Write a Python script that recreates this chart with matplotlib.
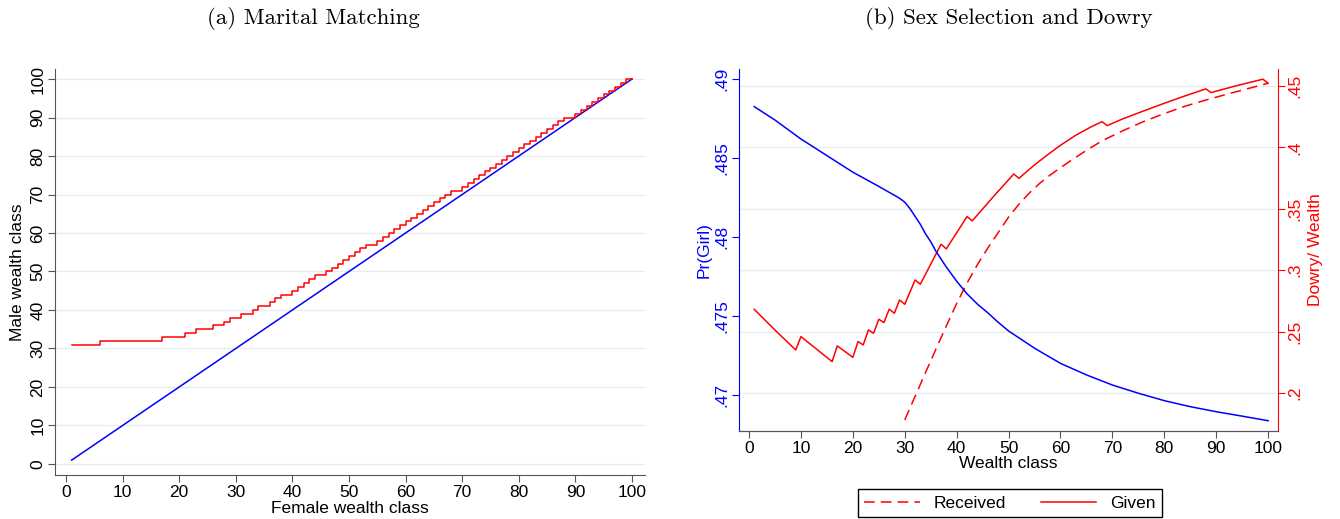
import numpy as np
import matplotlib
matplotlib.use("Agg")
import matplotlib.pyplot as plt
from matplotlib.lines import Line2D

plt.rcParams['font.family'] = ['Liberation Sans', 'DejaVu Sans']
plt.rcParams['font.size'] = 12.5

# (a) marital matching: female class -> matched male class
female_class = list(range(1, 101))
diag_x = [1, 100]
diag_y = [1, 100]
male_match = [31, 31, 31, 31, 31, 32, 32, 32, 32, 32,
              32, 32, 32, 32, 32, 32, 33, 33, 33, 33,
              34, 34, 35, 35, 35, 36, 36, 37, 38, 38,
              39, 39, 40, 41, 41, 42, 43, 44, 44, 45,
              46, 47, 48, 49, 49, 50, 51, 52, 53, 54,
              55, 56, 57, 57, 58, 59, 60, 61, 62, 63,
              64, 65, 66, 67, 68, 69, 70, 71, 71, 72,
              73, 74, 75, 76, 77, 78, 79, 80, 81, 82,
              83, 84, 85, 86, 87, 88, 89, 90, 90, 91,
              92, 93, 94, 95, 96, 97, 98, 99, 100, 100]

# (b) sex selection and dowry
girl_x = [1, 5, 10, 15, 20, 25, 29, 30, 31, 32, 33, 34, 35, 36, 37, 38, 40, 41,
          42, 44, 46, 48, 50, 55, 60, 65, 70, 75, 80, 85, 90, 95, 100]
girl_p = [.48825, .4874, .4862, .48515, .4841, .4832, .48245, .4822, .4818, .4813,
          .4808, .4802, .4797, .4791, .4786, .4781, .4772, .4768,
          .4764, .47575, .4752, .4746, .47405, .47296, .47200, .47127, .47063,
          .47011, .46964, .46926, .46894, .46866, .46837]

given_x = [1, 5, 9, 10, 16, 17, 20, 21, 22, 23, 24, 25, 26, 27, 28, 29, 30, 32, 33,
           37, 38, 42, 43, 47, 51, 52, 55, 58, 60, 63, 66, 68, 69, 72, 76, 80, 84,
           88, 89, 94, 99, 100]
given_y = [.2681, .2512, .2350, .2459, .2255, .2383, .2290, .2418, .2391, .2513,
           .2486, .2600, .2573, .2682, .2649, .2757, .2722, .2920, .2885,
           .3211, .3173, .3436, .3401, .3595, .3783, .3748, .3857, .3955, .4017,
           .4100, .4169, .4209, .4177, .4232, .4296, .4359, .4419,
           .4476, .4446, .4503, .4555, .4522]

recv_x = [30, 32, 34, 36, 38, 40, 42, 44, 46, 48, 50, 52, 54, 56, 58, 60, 62, 65,
          68, 72, 76, 80, 84, 88, 92, 96, 100]
recv_y = [.178, .1973, .2166, .2356, .2545, .2728, .2895, .3045, .3180, .3305,
          .3432, .3537, .3628, .3707, .3774, .3834, .3893, .3975,
          .4053, .4135, .4210, .4275, .4335, .4385, .4432, .4477, .4522]

ticks_a = list(range(0, 101, 10))
ticks_girl = [.47, .475, .48, .485, .49]
ticks_dowry = [.2, .25, .3, .35, .4, .45]
lab_girl = ['.47', '.475', '.48', '.485', '.49']
lab_dowry = ['.2', '.25', '.3', '.35', '.4', '.45']

W, H = 1340, 519
fig = plt.figure(figsize=(W / 100, H / 100), dpi=100)

grid_col = '#e6eef0'
spine_col = '#555555'
lw = 1.1

# ---------- panel (a)
ax1 = fig.add_axes([55 / W, (H - 475) / H, (645 - 55) / W, (475 - 69) / H])
ax1.plot(diag_x, diag_y, color='blue', lw=lw)
ax1.step(female_class, male_match, where='post', color='red', lw=lw)
ax1.set_xlim(-1.94, 102.3)
ax1.set_ylim(-2.86, 102.6)
ax1.set_xticks(ticks_a)
ax1.set_yticks(ticks_a)
ax1.set_yticklabels([str(t) for t in ticks_a], rotation=90, va='center')
ax1.yaxis.grid(True, color=grid_col, lw=1.0)
ax1.set_axisbelow(True)
for s in ['top', 'right']:
    ax1.spines[s].set_visible(False)
for s in ['left', 'bottom']:
    ax1.spines[s].set_color(spine_col)
ax1.tick_params(length=5, color=spine_col, pad=2)
ax1.set_xlabel('Female wealth class', labelpad=1)
ax1.set_ylabel('Male wealth class', labelpad=4)

# ---------- panel (b)
ax2 = fig.add_axes([739 / W, (H - 431) / H, (1278 - 739) / W, (431 - 69) / H])
ax3 = ax2.twinx()
ax2.set_zorder(ax3.get_zorder() + 1)
ax2.patch.set_visible(False)

ax2.plot(girl_x, girl_p, color='blue', lw=lw)
ax3.plot(recv_x, recv_y, color='red', lw=lw, ls=(0, (7, 4)))
ax3.plot(given_x, given_y, color='red', lw=lw)

ax2.set_xlim(-1.93, 101.9)
ax2.set_ylim(.46772, .49063)
ax3.set_ylim(.169, .4638)
ax2.set_xticks(ticks_a)
ax2.set_yticks(ticks_girl)
ax2.set_yticklabels(lab_girl, rotation=90, va='center', color='blue')
ax3.set_yticks(ticks_dowry)
ax3.set_yticklabels(lab_dowry, rotation=90, va='center', color='red')
ax3.yaxis.grid(True, color=grid_col, lw=1.0)

for a in (ax2, ax3):
    a.spines['top'].set_visible(False)
    a.spines['bottom'].set_color(spine_col)
ax2.spines['right'].set_visible(False)
ax3.spines['left'].set_visible(False)
ax2.spines['left'].set_color('blue')
ax3.spines['right'].set_color('red')
ax2.tick_params(axis='x', length=5, color=spine_col, pad=2)
ax2.tick_params(axis='y', length=5, color='blue', pad=2)
ax3.tick_params(axis='y', length=5, color='red', pad=2)
ax2.set_xlabel('Wealth class', labelpad=0)
ax2.set_ylabel('Pr(Girl)', color='blue', labelpad=2)
ax3.set_ylabel('Dowry/ Wealth', color='red', labelpad=4)

handles = [Line2D([], [], color='red', lw=lw, ls=(0, (7, 4))),
           Line2D([], [], color='red', lw=lw)]
fig.legend(handles, ['Received', 'Given'], loc='center', ncol=2,
           bbox_to_anchor=(1010 / W, (H - 503) / H), frameon=True,
           fancybox=False, edgecolor='black', handlelength=3.2,
           columnspacing=2.0, borderpad=0.35, framealpha=1)

title_font = dict(family='cmr10', size=16.5, ha='center', va='center')
fig.text(313 / W, 1 - 18 / H, '(a) Marital Matching', **title_font)
fig.text(1009 / W, 1 - 18 / H, '(b) Sex Selection and Dowry', **title_font)

fig.savefig('out.png', dpi=100)
